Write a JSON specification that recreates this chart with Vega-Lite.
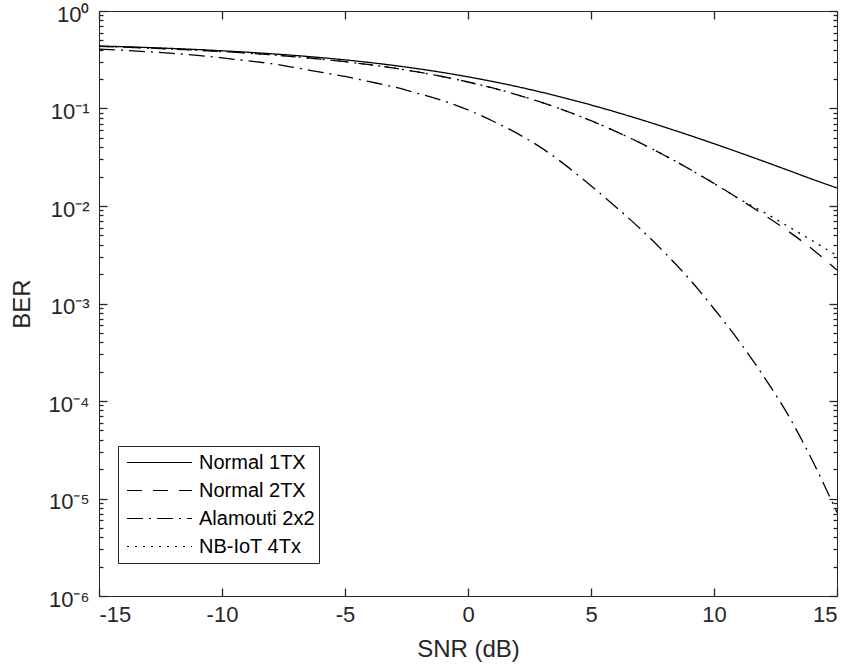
{
  "$schema": "https://vega.github.io/schema/vega-lite/v6.json",
  "autosize": {"type": "none"},
  "padding": {"left": 99, "top": 11, "right": 15, "bottom": 74},
  "width": 738,
  "height": 585,
  "background": "white",
  "config": {
    "font": "Liberation Sans",
    "view": {"stroke": "#262626", "strokeWidth": 1},
    "axis": {"grid": false, "domainColor": "#262626", "domainWidth": 1, "tickColor": "#262626", "tickWidth": 1.3, "labelColor": "#262626", "titleColor": "#262626", "labelFont": "Liberation Sans", "titleFont": "Liberation Sans", "labelFontSize": 22, "titleFontSize": 24, "titleFontWeight": "normal"}
  },
  "datasets": {
    "ber": [
      {"snr": -15, "ber": 0.4376, "series": "Normal 1TX"},
      {"snr": -14, "ber": 0.4302, "series": "Normal 1TX"},
      {"snr": -13, "ber": 0.4218, "series": "Normal 1TX"},
      {"snr": -12, "ber": 0.4126, "series": "Normal 1TX"},
      {"snr": -11, "ber": 0.4023, "series": "Normal 1TX"},
      {"snr": -10, "ber": 0.3909, "series": "Normal 1TX"},
      {"snr": -9, "ber": 0.3783, "series": "Normal 1TX"},
      {"snr": -8, "ber": 0.3645, "series": "Normal 1TX"},
      {"snr": -7, "ber": 0.3494, "series": "Normal 1TX"},
      {"snr": -6, "ber": 0.3330, "series": "Normal 1TX"},
      {"snr": -5, "ber": 0.3153, "series": "Normal 1TX"},
      {"snr": -4, "ber": 0.2963, "series": "Normal 1TX"},
      {"snr": -3, "ber": 0.2762, "series": "Normal 1TX"},
      {"snr": -2, "ber": 0.2551, "series": "Normal 1TX"},
      {"snr": -1, "ber": 0.2334, "series": "Normal 1TX"},
      {"snr": 0, "ber": 0.2113, "series": "Normal 1TX"},
      {"snr": 1, "ber": 0.1892, "series": "Normal 1TX"},
      {"snr": 2, "ber": 0.1676, "series": "Normal 1TX"},
      {"snr": 3, "ber": 0.1467, "series": "Normal 1TX"},
      {"snr": 4, "ber": 0.1269, "series": "Normal 1TX"},
      {"snr": 5, "ber": 0.1087, "series": "Normal 1TX"},
      {"snr": 6, "ber": 0.09207, "series": "Normal 1TX"},
      {"snr": 7, "ber": 0.07728, "series": "Normal 1TX"},
      {"snr": 8, "ber": 0.06431, "series": "Normal 1TX"},
      {"snr": 9, "ber": 0.05311, "series": "Normal 1TX"},
      {"snr": 10, "ber": 0.04356, "series": "Normal 1TX"},
      {"snr": 11, "ber": 0.03554, "series": "Normal 1TX"},
      {"snr": 12, "ber": 0.02884, "series": "Normal 1TX"},
      {"snr": 13, "ber": 0.02332, "series": "Normal 1TX"},
      {"snr": 14, "ber": 0.01879, "series": "Normal 1TX"},
      {"snr": 15, "ber": 0.0153, "series": "Normal 1TX"},

      {"snr": -15, "ber": 0.4338, "series": "Normal 2TX"},
      {"snr": -14, "ber": 0.4258, "series": "Normal 2TX"},
      {"snr": -13, "ber": 0.4169, "series": "Normal 2TX"},
      {"snr": -12, "ber": 0.4070, "series": "Normal 2TX"},
      {"snr": -11, "ber": 0.3960, "series": "Normal 2TX"},
      {"snr": -10, "ber": 0.3838, "series": "Normal 2TX"},
      {"snr": -9, "ber": 0.3703, "series": "Normal 2TX"},
      {"snr": -8, "ber": 0.3554, "series": "Normal 2TX"},
      {"snr": -7, "ber": 0.3391, "series": "Normal 2TX"},
      {"snr": -6, "ber": 0.3213, "series": "Normal 2TX"},
      {"snr": -5, "ber": 0.3020, "series": "Normal 2TX"},
      {"snr": -4, "ber": 0.2812, "series": "Normal 2TX"},
      {"snr": -3, "ber": 0.2590, "series": "Normal 2TX"},
      {"snr": -2, "ber": 0.2357, "series": "Normal 2TX"},
      {"snr": -1, "ber": 0.2116, "series": "Normal 2TX"},
      {"snr": 0, "ber": 0.1870, "series": "Normal 2TX"},
      {"snr": 1, "ber": 0.1623, "series": "Normal 2TX"},
      {"snr": 2, "ber": 0.1383, "series": "Normal 2TX"},
      {"snr": 3, "ber": 0.1153, "series": "Normal 2TX"},
      {"snr": 4, "ber": 0.09408, "series": "Normal 2TX"},
      {"snr": 5, "ber": 0.07499, "series": "Normal 2TX"},
      {"snr": 6, "ber": 0.05837, "series": "Normal 2TX"},
      {"snr": 7, "ber": 0.04437, "series": "Normal 2TX"},
      {"snr": 8, "ber": 0.03296, "series": "Normal 2TX"},
      {"snr": 9, "ber": 0.02395, "series": "Normal 2TX"},
      {"snr": 10, "ber": 0.01706, "series": "Normal 2TX"},
      {"snr": 11, "ber": 0.01192, "series": "Normal 2TX"},
      {"snr": 12, "ber": 0.008193, "series": "Normal 2TX"},
      {"snr": 13, "ber": 0.005551, "series": "Normal 2TX"},
      {"snr": 14, "ber": 0.0036, "series": "Normal 2TX"},
      {"snr": 15, "ber": 0.0022, "series": "Normal 2TX"},

      {"snr": -15, "ber": 0.407, "series": "Alamouti 2x2"},
      {"snr": -14, "ber": 0.3954, "series": "Alamouti 2x2"},
      {"snr": -13, "ber": 0.3819, "series": "Alamouti 2x2"},
      {"snr": -12, "ber": 0.3673, "series": "Alamouti 2x2"},
      {"snr": -11, "ber": 0.3508, "series": "Alamouti 2x2"},
      {"snr": -10, "ber": 0.3311, "series": "Alamouti 2x2"},
      {"snr": -9, "ber": 0.309, "series": "Alamouti 2x2"},
      {"snr": -8, "ber": 0.2884, "series": "Alamouti 2x2"},
      {"snr": -7, "ber": 0.2618, "series": "Alamouti 2x2"},
      {"snr": -6, "ber": 0.236, "series": "Alamouti 2x2"},
      {"snr": -5, "ber": 0.2133, "series": "Alamouti 2x2"},
      {"snr": -4, "ber": 0.1884, "series": "Alamouti 2x2"},
      {"snr": -3, "ber": 0.166, "series": "Alamouti 2x2"},
      {"snr": -2, "ber": 0.1419, "series": "Alamouti 2x2"},
      {"snr": -1, "ber": 0.1199, "series": "Alamouti 2x2"},
      {"snr": 0, "ber": 0.0966, "series": "Alamouti 2x2"},
      {"snr": 1, "ber": 0.0745, "series": "Alamouti 2x2"},
      {"snr": 2, "ber": 0.0555, "series": "Alamouti 2x2"},
      {"snr": 3, "ber": 0.0392, "series": "Alamouti 2x2"},
      {"snr": 4, "ber": 0.0258, "series": "Alamouti 2x2"},
      {"snr": 5, "ber": 0.0161, "series": "Alamouti 2x2"},
      {"snr": 6, "ber": 0.00985, "series": "Alamouti 2x2"},
      {"snr": 7, "ber": 0.00585, "series": "Alamouti 2x2"},
      {"snr": 8, "ber": 0.00331, "series": "Alamouti 2x2"},
      {"snr": 9, "ber": 0.00178, "series": "Alamouti 2x2"},
      {"snr": 10, "ber": 0.000883, "series": "Alamouti 2x2"},
      {"snr": 11, "ber": 0.000417, "series": "Alamouti 2x2"},
      {"snr": 12, "ber": 0.000182, "series": "Alamouti 2x2"},
      {"snr": 13, "ber": 0.0000728, "series": "Alamouti 2x2"},
      {"snr": 14, "ber": 0.0000245, "series": "Alamouti 2x2"},
      {"snr": 15, "ber": 0.0000072, "series": "Alamouti 2x2"},

      {"snr": -15, "ber": 0.4338, "series": "NB-IoT 4Tx"},
      {"snr": -14, "ber": 0.4258, "series": "NB-IoT 4Tx"},
      {"snr": -13, "ber": 0.4169, "series": "NB-IoT 4Tx"},
      {"snr": -12, "ber": 0.4070, "series": "NB-IoT 4Tx"},
      {"snr": -11, "ber": 0.3960, "series": "NB-IoT 4Tx"},
      {"snr": -10, "ber": 0.3838, "series": "NB-IoT 4Tx"},
      {"snr": -9, "ber": 0.3703, "series": "NB-IoT 4Tx"},
      {"snr": -8, "ber": 0.3554, "series": "NB-IoT 4Tx"},
      {"snr": -7, "ber": 0.3391, "series": "NB-IoT 4Tx"},
      {"snr": -6, "ber": 0.3213, "series": "NB-IoT 4Tx"},
      {"snr": -5, "ber": 0.3020, "series": "NB-IoT 4Tx"},
      {"snr": -4, "ber": 0.2812, "series": "NB-IoT 4Tx"},
      {"snr": -3, "ber": 0.2590, "series": "NB-IoT 4Tx"},
      {"snr": -2, "ber": 0.2357, "series": "NB-IoT 4Tx"},
      {"snr": -1, "ber": 0.2116, "series": "NB-IoT 4Tx"},
      {"snr": 0, "ber": 0.1870, "series": "NB-IoT 4Tx"},
      {"snr": 1, "ber": 0.1623, "series": "NB-IoT 4Tx"},
      {"snr": 2, "ber": 0.1383, "series": "NB-IoT 4Tx"},
      {"snr": 3, "ber": 0.1153, "series": "NB-IoT 4Tx"},
      {"snr": 4, "ber": 0.09408, "series": "NB-IoT 4Tx"},
      {"snr": 5, "ber": 0.07499, "series": "NB-IoT 4Tx"},
      {"snr": 6, "ber": 0.05837, "series": "NB-IoT 4Tx"},
      {"snr": 7, "ber": 0.04437, "series": "NB-IoT 4Tx"},
      {"snr": 8, "ber": 0.03296, "series": "NB-IoT 4Tx"},
      {"snr": 9, "ber": 0.02395, "series": "NB-IoT 4Tx"},
      {"snr": 10, "ber": 0.01706, "series": "NB-IoT 4Tx"},
      {"snr": 11, "ber": 0.01192, "series": "NB-IoT 4Tx"},
      {"snr": 12, "ber": 0.0087, "series": "NB-IoT 4Tx"},
      {"snr": 13, "ber": 0.0062, "series": "NB-IoT 4Tx"},
      {"snr": 14, "ber": 0.0044, "series": "NB-IoT 4Tx"},
      {"snr": 15, "ber": 0.0031, "series": "NB-IoT 4Tx"}
    ]
  },
  "data": {"name": "ber"},
  "resolve": {"axis": {"x": "independent", "y": "independent"}},
  "layer": [
    {
      "transform": [{"filter": "datum.series === 'Normal 1TX'"}],
      "mark": {"type": "line", "color": "black", "strokeWidth": 1.3, "interpolate": "monotone"},
      "encoding": {
        "x": {"field": "snr", "type": "quantitative", "scale": {"domain": [-15, 15], "nice": false, "zero": false},
          "axis": {"orient": "bottom", "values": [-15, -10, -5, 0, 5, 10, 15], "tickSize": -8, "tickColor": "#262626", "tickWidth": 1.3, "labelPadding": 16, "labelExpr": "'' + datum.value", "title": "SNR (dB)", "titlePadding": 12}},
        "y": {"field": "ber", "type": "quantitative", "scale": {"type": "log", "domain": [0.000001, 1], "nice": false},
          "axis": {"orient": "left",
            "values": [0.000001, 0.00001, 0.0001, 0.001, 0.01, 0.1, 1],
            "tickSize": -8, "tickColor": "#262626", "tickWidth": 1.3,
            "labelExpr": "'10' + ['⁰','⁻¹','⁻²','⁻³','⁻⁴','⁻⁵','⁻⁶'][-round(log(datum.value)/LN10)]",
            "labelPadding": 18, "labelOffset": 3, "labelOverlap": false, "labelBound": false, "labelFlush": false,
            "title": "BER", "titlePadding": 14}},
        "strokeDash": {"field": "series", "type": "nominal",
          "scale": {"domain": ["Normal 1TX", "Normal 2TX", "Alamouti 2x2", "NB-IoT 4Tx"], "range": [[1, 0], [15, 11], [16, 6, 2, 6], [2, 6]]},
          "legend": {"title": null, "orient": "none", "legendX": 19, "legendY": 435, "direction": "vertical",
            "symbolType": "stroke", "symbolSize": 4225, "symbolStrokeColor": "black", "symbolStrokeWidth": 1.2,
            "clipHeight": 25, "rowPadding": 3, "padding": 4, "symbolOffset": 4, "labelOffset": 6,
            "labelFontSize": 20, "labelFont": "Liberation Sans", "labelColor": "black",
            "strokeColor": "#262626", "fillColor": "white", "cornerRadius": 0, "zindex": 3}}
      }
    },
    {
      "transform": [{"filter": "datum.series === 'Normal 2TX'"}],
      "mark": {"type": "line", "color": "black", "strokeWidth": 1.3, "interpolate": "monotone"},
      "encoding": {
        "x": {"field": "snr", "type": "quantitative",
          "axis": {"orient": "top", "values": [-15, -10, -5, 0, 5, 10, 15], "tickSize": -8, "tickColor": "#262626", "tickWidth": 1.3, "labels": false, "title": null}},
        "y": {"field": "ber", "type": "quantitative",
          "axis": {"orient": "right", "values": [0.000001, 0.00001, 0.0001, 0.001, 0.01, 0.1, 1],
            "tickSize": -8, "tickColor": "#262626", "tickWidth": 1.3, "labels": false, "title": null}},
        "strokeDash": {"field": "series", "type": "nominal"}
      }
    },
    {
      "transform": [{"filter": "datum.series === 'Alamouti 2x2'"}],
      "mark": {"type": "line", "color": "black", "strokeWidth": 1.3, "interpolate": "monotone"},
      "encoding": {
        "x": {"field": "snr", "type": "quantitative", "axis": null},
        "y": {"field": "ber", "type": "quantitative",
          "axis": {"orient": "left",
            "values": [0.000002, 0.000003, 0.000004, 0.000005, 0.000006, 0.000007, 0.000008, 0.000009, 0.00002, 0.00003, 0.00004, 0.00005, 0.00006, 0.00007, 0.00008, 0.00009, 0.0002, 0.0003, 0.0004, 0.0005, 0.0006, 0.0007, 0.0008, 0.0009, 0.002, 0.003, 0.004, 0.005, 0.006, 0.007, 0.008, 0.009, 0.02, 0.03, 0.04, 0.05, 0.06, 0.07, 0.08, 0.09, 0.2, 0.3, 0.4, 0.5, 0.6, 0.7, 0.8, 0.9],
            "tickSize": -4, "tickColor": "#262626", "tickWidth": 1.3, "labels": false, "title": null}},
        "strokeDash": {"field": "series", "type": "nominal"}
      }
    },
    {
      "transform": [{"filter": "datum.series === 'NB-IoT 4Tx'"}],
      "mark": {"type": "line", "color": "black", "strokeWidth": 1.3, "interpolate": "monotone"},
      "encoding": {
        "x": {"field": "snr", "type": "quantitative", "axis": null},
        "y": {"field": "ber", "type": "quantitative",
          "axis": {"orient": "right",
            "values": [0.000002, 0.000003, 0.000004, 0.000005, 0.000006, 0.000007, 0.000008, 0.000009, 0.00002, 0.00003, 0.00004, 0.00005, 0.00006, 0.00007, 0.00008, 0.00009, 0.0002, 0.0003, 0.0004, 0.0005, 0.0006, 0.0007, 0.0008, 0.0009, 0.002, 0.003, 0.004, 0.005, 0.006, 0.007, 0.008, 0.009, 0.02, 0.03, 0.04, 0.05, 0.06, 0.07, 0.08, 0.09, 0.2, 0.3, 0.4, 0.5, 0.6, 0.7, 0.8, 0.9],
            "tickSize": -4, "tickColor": "#262626", "tickWidth": 1.3, "labels": false, "title": null}},
        "strokeDash": {"field": "series", "type": "nominal"}
      }
    }
  ]
}
